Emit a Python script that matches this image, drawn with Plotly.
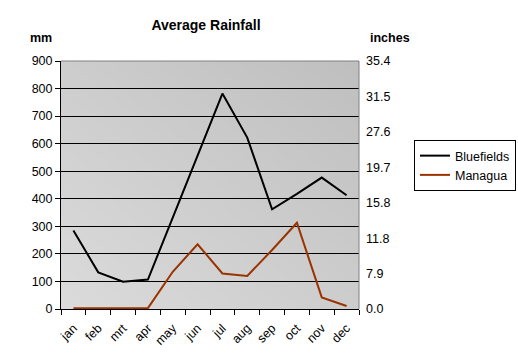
import base64, struct, zlib
import plotly.graph_objects as go

months = ["jan", "feb", "mrt", "apr", "may", "jun", "jul", "aug", "sep", "oct", "nov", "dec"]
bluefields_mm = [285, 133, 99, 107, 332, 556, 782, 622, 362, 418, 477, 413]
managua_mm = [3, 3, 3, 3, 135, 235, 129, 120, 214, 313, 42, 11]
mm_ticks = [0, 100, 200, 300, 400, 500, 600, 700, 800, 900]
inch_labels = ["0.0", "7.9", "11.8", "15.8", "19.7", "27.6", "31.5", "35.4"]


def gradient_png(w=64, h=64, light=0xDB, dark=0xBF):
    rows = b""
    for j in range(h):
        row = b"\x00"
        for i in range(w):
            t = (i / (w - 1) + (1 - j / (h - 1))) / 2
            v = int(round(light - (light - dark) * t))
            row += bytes([v, v, v])
        rows += row

    def chunk(tag, data):
        c = struct.pack(">I", len(data)) + tag + data
        return c + struct.pack(">I", zlib.crc32(tag + data) & 0xFFFFFFFF)

    png = b"\x89PNG\r\n\x1a\n"
    png += chunk(b"IHDR", struct.pack(">IIBBBBB", w, h, 8, 2, 0, 0, 0))
    png += chunk(b"IDAT", zlib.compress(rows, 9))
    png += chunk(b"IEND", b"")
    return "data:image/png;base64," + base64.b64encode(png).decode()


font = "Liberation Sans, Arial, sans-serif"
PL, PR, PT, PB = 61, 359, 61, 309  # plot area in pixels
PW, PH = PR - PL, PB - PT

fig = go.Figure()
fig.add_trace(go.Scatter(x=months, y=bluefields_mm, name="Bluefields", mode="lines",
                         line=dict(color="#000000", width=2)))
fig.add_trace(go.Scatter(x=months, y=managua_mm, name="Managua", mode="lines",
                         line=dict(color="#993300", width=2)))
# invisible trace to activate right axis
fig.add_trace(go.Scatter(x=[months[0]], y=[0], yaxis="y2", showlegend=False,
                         mode="markers", marker=dict(opacity=0), hoverinfo="skip"))

n = len(inch_labels)
inch_pos = [mm_ticks[-1] * k / (n - 1) for k in range(n)]

fig.update_layout(
    width=518, height=362,
    margin=dict(l=PL, r=518 - PR, t=PT, b=362 - PB, autoexpand=False),
    paper_bgcolor="white",
    plot_bgcolor="rgba(0,0,0,0)",
    font=dict(family=font, size=12.5, color="black"),
    showlegend=True,
    hovermode=False,
    title=dict(text="<b>Average Rainfall</b>", x=206 / 518, xanchor="center",
               y=1 - 25 / 362, yanchor="middle", font=dict(size=14, family=font)),
    xaxis=dict(type="category", categoryorder="array", categoryarray=months,
               range=[-0.5, len(months) - 0.5], tickson="boundaries",
               ticks="outside", ticklen=5, tickcolor="black", showline=True,
               linecolor="black", linewidth=1, showgrid=False, tickangle=-45,
               tickfont=dict(size=12.5), automargin=False, ticklabelstandoff=6),
    yaxis=dict(range=[0, 900], tickvals=mm_ticks, ticks="outside", ticklen=5,
               tickcolor="black", showline=True, linecolor="black", linewidth=1,
               showgrid=True, gridcolor="black", gridwidth=1, zeroline=False,
               tickfont=dict(size=12.5), automargin=False),
    yaxis2=dict(overlaying="y", side="right", range=[0, 900], tickvals=inch_pos,
                ticktext=inch_labels, ticks="", showline=False, showgrid=False,
                zeroline=False, tickfont=dict(size=12.5), automargin=False,
                ticklabelstandoff=6),
    legend=dict(x=(414 - PL) / PW, y=(PB - 140) / PH, xanchor="left", yanchor="top",
                bgcolor="white", bordercolor="black", borderwidth=1,
                font=dict(size=12.5), tracegroupgap=0),
    images=[dict(source=gradient_png(), xref="paper", yref="paper", x=0, y=1,
                 sizex=1, sizey=1, sizing="stretch", layer="below",
                 xanchor="left", yanchor="top")],
    shapes=[
        dict(type="line", xref="x domain", yref="y domain", x0=0, x1=1, y0=1, y1=1,
             line=dict(color="#808080", width=1), layer="above"),
        dict(type="line", xref="x domain", yref="y domain", x0=1, x1=1, y0=0, y1=1,
             line=dict(color="#808080", width=1), layer="above"),
    ],
    annotations=[
        dict(text="<b>mm</b>", xref="paper", yref="paper", x=(28 - PL) / PW,
             y=(PB - 38) / PH, xanchor="left", yanchor="middle", showarrow=False,
             font=dict(size=12.5, family=font)),
        dict(text="<b>inches</b>", xref="paper", yref="paper", x=(368 - PL) / PW,
             y=(PB - 38) / PH, xanchor="left", yanchor="middle", showarrow=False,
             font=dict(size=12.5, family=font)),
    ],
)

fig.write_html("out.html", config={"displayModeBar": False, "staticPlot": True},
               post_script="document.body.style.margin='0';")
